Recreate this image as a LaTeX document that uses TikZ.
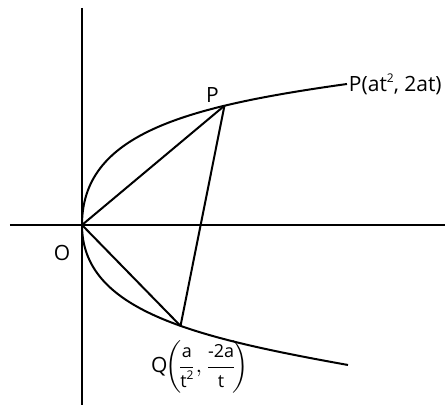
\documentclass[tikz,border=0pt]{standalone}
\usepackage{amsmath}
\usepackage{fontspec}
\setmainfont{Open Sans}

% maly wykladnik
\newcommand{\sqsup}{\raisebox{0.8ex}{\fontsize{6}{7}\selectfont 2}}

\begin{document}
\begin{tikzpicture}[x=0.5pt, y=0.5pt, line width=1pt, font=\fontsize{10.5}{13}\selectfont]

% Obszar rysunku
\useasboundingbox (-82,-185) rectangle (365,225);

% ---------- Osie ----------
\coordinate (O) at (0,0);
\coordinate (xl) at (-72,0);
\coordinate (xr) at (363,0);
\coordinate (yt) at (0,217);
\coordinate (yb) at (0,-180);
\draw (xl) -- (xr);
\draw (yt) -- (yb);

% ---------- Parabola ----------
% gorna galaz z punktem P, dolna z punktem Q
\draw (O) .. controls (0,90) and (100,118) .. coordinate[pos=0.72] (P) (265,141) coordinate (Pend);
\draw (O) .. controls (0,-85) and (110,-112) .. coordinate[pos=0.58] (Q) (266,-140) coordinate (Qend);

% ---------- Cieciwy ----------
\draw (O) -- (P);
\draw (O) -- (Q);
\draw (P) -- (Q);

% ---------- Etykiety ----------
\node[anchor=west, inner sep=0.5pt] (lPend) at (Pend) {P(at\sqsup, 2at)};
\node[anchor=base, inner sep=0pt] (lP) at ([xshift=-6pt, yshift=1.5pt]P) {P};
\node (lO) at ([shift={(-20,-28)}]O) {O};
\node (lQ) at (118,-142) {Q\kern-1pt$\displaystyle\left(\!\frac{\text{\small a}}{\text{\small t\sqsup}},
  \frac{\text{\small -2a}}{\text{\small t}}\!\right)$};

\end{tikzpicture}
\end{document}
